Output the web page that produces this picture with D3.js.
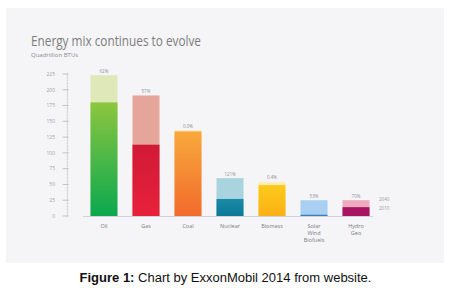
<!DOCTYPE html>
<html>
<head>
<meta charset="utf-8">
<script src="https://cdn.jsdelivr.net/npm/d3@7"></script>
<style>
  html, body { margin: 0; padding: 0; background: #fff; }
  svg { display: block; }
</style>
</head>
<body>
<div id="chart"></div>
<script>
// 数据
const categories = ['Oil', 'Gas', 'Coal', 'Nuclear', 'Biomass', 'Solar|Wind|Biofuels', 'Hydro|Geo'];
const values2010 = [180, 113, 134, 27, 49, 2, 14];
const values2040 = [223, 191, 136, 60, 54, 25, 25];
const growthLabels = ['62%', '57%', '0.0%', '121%', '0.4%', '53%', '70%'];
const yTicks = [0, 25, 50, 75, 100, 125, 150, 175, 200, 225];
const legendYears = ['2040', '2010'];

// 颜色
const lightColors = ['#dfe8b9', '#e6a59b', '#fde6b6', '#a9d4dd', '#fdeeb5', '#a9cff2', '#eeaabe'];
const darkStops = [
    ['#0aa84f', '#8dc63f'],
    ['#e8213b', '#d11a36'],
    ['#f26a2b', '#f8a93c'],
    ['#0b7897', '#1a8ba7'],
    ['#fbb016', '#fdca1c'],
    ['#3b7ebf', '#3b7ebf'],
    ['#a51462', '#a81462']
];

const width = 451, height = 291;
const svg = d3.select('#chart').append('svg')
    .attr('width', width)
    .attr('height', height);

// 灰色背景面板
svg.append('rect')
    .attr('x', 6).attr('y', 8)
    .attr('width', 438).attr('height', 255)
    .attr('fill', '#f5f5f7');

// 标题
svg.append('text')
    .attr('x', 31).attr('y', 46)
    .attr('textLength', 170)
    .attr('lengthAdjust', 'spacingAndGlyphs')
    .style('font-family', '"Open Sans", sans-serif')
    .style('font-size', '14px')
    .attr('fill', '#7d7d7d')
    .text('Energy mix continues to evolve');

svg.append('text')
    .attr('x', 31).attr('y', 57)
    .style('font-family', '"Open Sans", sans-serif')
    .style('font-size', '6px')
    .attr('fill', '#8a8a8a')
    .text('Quadrillion BTUs');

// 比例尺
const x = d3.scaleBand()
    .domain(categories)
    .range([83, 377])
    .paddingInner(0.357)
    .paddingOuter(0.178);

const y = d3.scaleLinear()
    .domain([0, 225])
    .range([216, 74]);

// 渐变
const defs = svg.append('defs');
categories.forEach((c, i) => {
    const g = defs.append('linearGradient')
        .attr('id', 'grad' + i)
        .attr('x1', 0).attr('y1', 1)
        .attr('x2', 0).attr('y2', 0);
    g.append('stop').attr('offset', '0%').attr('stop-color', darkStops[i][0]);
    g.append('stop').attr('offset', '100%').attr('stop-color', darkStops[i][1]);
});

// y 轴
const axis = svg.append('g').attr('class', 'y-axis');
axis.append('line')
    .attr('x1', 67.5).attr('x2', 67.5)
    .attr('y1', y(0)).attr('y2', y(225))
    .attr('stroke', '#d8d8dc')
    .attr('stroke-width', 0.8);

axis.selectAll('.minor')
    .data(d3.range(0, 226, 5))
    .enter().append('line')
    .attr('x1', 66).attr('x2', 68.5)
    .attr('y1', d => y(d)).attr('y2', d => y(d))
    .attr('stroke', '#d0d0d4')
    .attr('stroke-width', 0.5);

axis.selectAll('.major')
    .data(yTicks)
    .enter().append('line')
    .attr('x1', 62.5).attr('x2', 68.5)
    .attr('y1', d => y(d)).attr('y2', d => y(d))
    .attr('stroke', '#b5b5b8')
    .attr('stroke-width', 0.8);

axis.selectAll('text')
    .data(yTicks)
    .enter().append('text')
    .attr('x', 55)
    .attr('y', d => y(d))
    .attr('dy', '0.35em')
    .attr('text-anchor', 'end')
    .style('font-family', '"Open Sans", sans-serif')
    .style('font-size', '5px')
    .attr('fill', '#a0a0a3')
    .text(d => d);

// 基线
svg.append('line')
    .attr('x1', 83).attr('x2', 373)
    .attr('y1', y(0) + 0.5).attr('y2', y(0) + 0.5)
    .attr('stroke', '#c8c8cc')
    .attr('stroke-width', 0.8);

// 柱子
const bars = svg.selectAll('.bar')
    .data(categories)
    .enter().append('g')
    .attr('class', 'bar');

bars.append('rect')
    .attr('x', d => x(d))
    .attr('y', (d, i) => y(values2040[i]))
    .attr('width', x.bandwidth())
    .attr('height', (d, i) => y(0) - y(values2040[i]))
    .attr('fill', (d, i) => lightColors[i]);

bars.append('rect')
    .attr('x', d => x(d))
    .attr('y', (d, i) => y(values2010[i]))
    .attr('width', x.bandwidth())
    .attr('height', (d, i) => y(0) - y(values2010[i]))
    .attr('fill', (d, i) => `url(#grad${i})`);

// 增长百分比
bars.append('text')
    .attr('x', d => x(d) + x.bandwidth() / 2)
    .attr('y', (d, i) => y(Math.max(values2040[i], values2010[i])) - 2.5)
    .attr('text-anchor', 'middle')
    .style('font-family', '"Open Sans", sans-serif')
    .style('font-size', '4.5px')
    .attr('fill', '#8f8f92')
    .text((d, i) => growthLabels[i]);

// 类别标签
bars.each(function (d) {
    const t = d3.select(this).append('text')
        .attr('text-anchor', 'middle')
        .style('font-family', '"Open Sans", sans-serif')
        .style('font-size', '5.5px')
        .attr('fill', '#7a7a7d');
    d.split('|').forEach((line, k) => {
        t.append('tspan')
            .attr('x', x(d) + x.bandwidth() / 2)
            .attr('y', 228 + k * 7)
            .text(line);
    });
});

// 图例年份
const last = categories.length - 1;
svg.selectAll('.legend')
    .data(legendYears)
    .enter().append('text')
    .attr('x', 379)
    .attr('y', (d, i) => (i === 0 ? y(values2040[last]) : y(values2010[last]) + 2) + 1)
    .style('font-family', '"Open Sans", sans-serif')
    .style('font-size', '4.5px')
    .attr('fill', '#9a9a9d')
    .text(d => d);

// 图注
const cap = svg.append('text')
    .attr('x', width / 2)
    .attr('y', 282)
    .attr('text-anchor', 'middle')
    .style('font-family', '"Liberation Sans", Arial, sans-serif')
    .style('font-size', '13px')
    .attr('fill', '#111');
cap.append('tspan').style('font-weight', 'bold').text('Figure 1:');
cap.append('tspan').text(' Chart by ExxonMobil 2014 from website.');
</script>
</body>
</html>
